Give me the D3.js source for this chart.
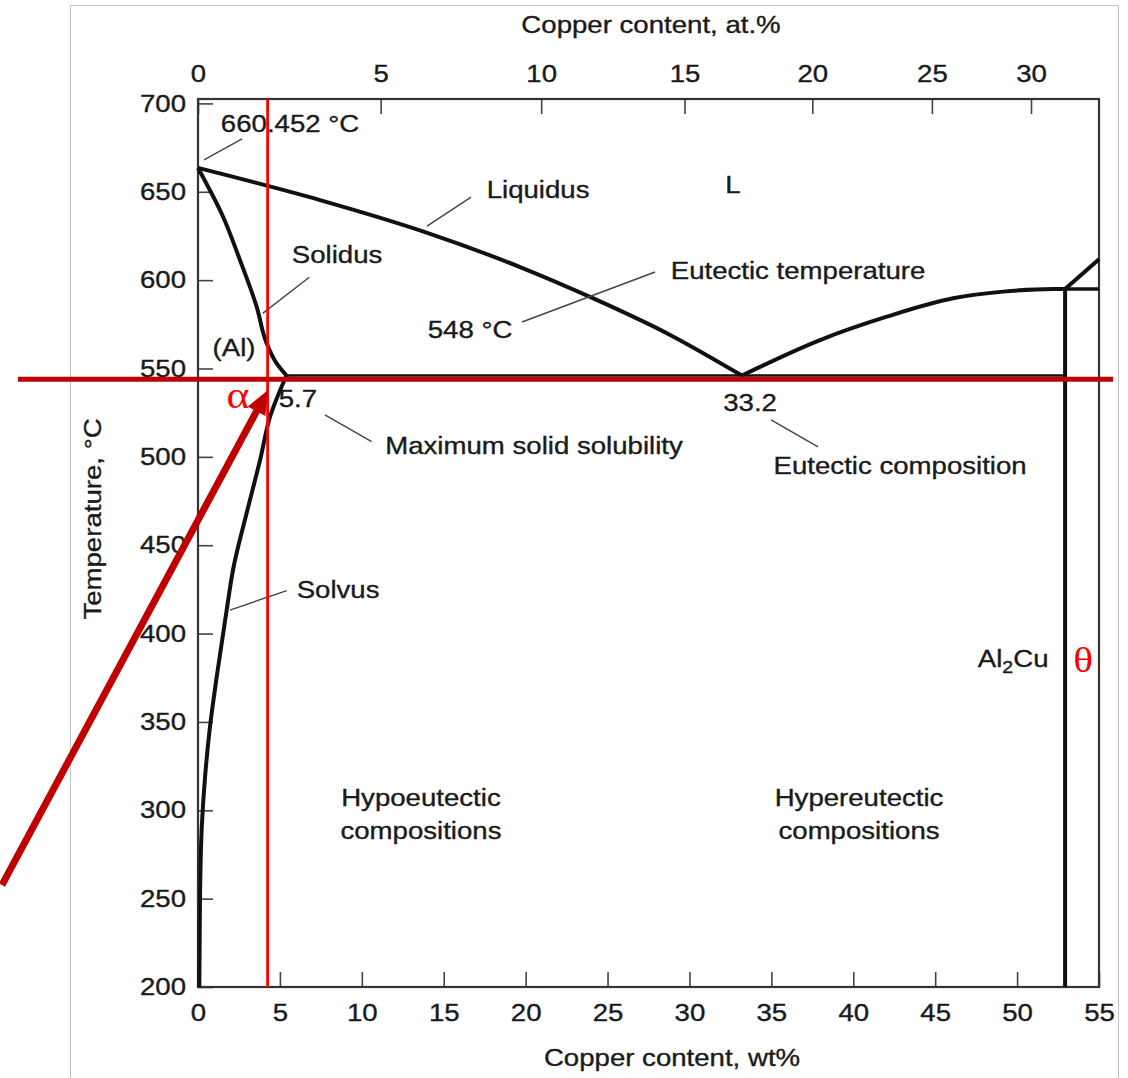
<!DOCTYPE html>
<html>
<head>
<meta charset="utf-8">
<script src="https://cdn.jsdelivr.net/npm/d3@7"></script>
<style>
  html, body { margin: 0; padding: 0; background: #fff; }
  svg { display: block; font-family: "Liberation Sans", Arial, sans-serif; }
</style>
</head>
<body>
<svg id="chart" width="1128" height="1078"></svg>
<script>
// axes
const wtTicks = [0, 5, 10, 15, 20, 25, 30, 35, 40, 45, 50, 55];
const tempTicks = [200, 250, 300, 350, 400, 450, 500, 550, 600, 650, 700];
const atTicks = [0, 5, 10, 15, 20, 25, 30];
const atTicksAsWt = [0, 11.15, 20.95, 29.7, 37.5, 44.8, 50.85]; // where the at.% ticks sit on the wt% axis

// phase boundaries, [wt% Cu, temperature °C]
const liquidusLeft = [[0, 663.5], [7.45, 645.3], [13.86, 627.2], [19.66, 607.4], [23.93, 590.5], [28.82, 569.0], [33.2, 546]];
const liquidusRight = [[33.2, 546], [37.97, 566.1], [42.05, 579.3], [46.09, 589.7], [49.15, 593.5], [52.2, 595.0], [52.93, 595.0]];
const solidus = [[5.4, 546], [4.8, 552.9], [4.19, 564.3], [3.58, 585.0], [2.56, 611.4], [1.53, 635.9], [0, 663.5]];
const solvus = [[0.08, 200], [0.12, 249.2], [0.23, 290.5], [0.43, 318.8], [0.73, 347.1], [1.14, 375.4], [1.75, 413.3], [2.16, 437.1], [2.97, 468.2], [3.79, 498.2], [4.4, 522.7], [5.4, 546]];
const eutecticLine = [[5.4, 546], [52.93, 546]];
const thetaLine = [[52.93, 595], [52.93, 200]];
const thetaTop = [[52.93, 595], [55, 595]];
const thetaLiquidus = [[52.93, 595], [55, 611.8]];

// red overlay marks
const redVertical = [[4.25, 702.5], [4.25, 200]];
const redHorizontal = [[-10.99, 543.9], [55.86, 543.9]];
const redArrow = [[-11.97, 257.7], [4.27, 537.8]];

// annotation text and leader lines
const labels = [
  { t: '660.452 °C', w: 5.62, T: 688.4 },
  { t: 'Liquidus', w: 20.76, T: 651.0 },
  { t: 'L', w: 32.66, T: 653.8 },
  { t: 'Solidus', w: 8.49, T: 614.2 },
  { t: '(Al)', w: 2.2, T: 561.6 },
  { t: '548 °C', w: 16.61, T: 571.8 },
  { t: 'Eutectic temperature', w: 36.63, T: 605.2 },
  { t: '5.7', w: 6.1, T: 532.7 },
  { t: 'Maximum solid solubility', w: 20.51, T: 506.1 },
  { t: '33.2', w: 33.7, T: 530.5 },
  { t: 'Eutectic composition', w: 42.86, T: 494.8 },
  { t: 'Solvus', w: 8.55, T: 424.7 },
  { t: 'Hypoeutectic', w: 13.61, T: 306.9 },
  { t: 'compositions', w: 13.61, T: 288.3 },
  { t: 'Hypereutectic', w: 40.35, T: 306.9 },
  { t: 'compositions', w: 40.35, T: 288.3 }
];
const leaders = [
  [[0.37, 668.0], [2.69, 679.9]],
  [[13.98, 630.6], [16.67, 647.0]],
  [[3.95, 581.2], [6.79, 601.6]],
  [[19.78, 576.3], [27.9, 604.6]],
  [[7.75, 523.7], [10.6, 508.6]],
  [[34.98, 520.9], [37.85, 505.6]],
  [[1.95, 413.3], [5.42, 424.3]]
];

const SX = 1.15; // the lettering in the scan is a bit wide

const svg = d3.select('#chart');

const x = d3.scaleLinear().domain([0, 55]).range([198, 1099]);
const y = d3.scaleLinear().domain([200, 702.5]).range([987, 99]);
const xAt = d3.scaleLinear().domain(atTicks).range(atTicksAsWt.map(x));

// outer grey border of the figure
svg.append('rect')
  .attr('x', 70.5).attr('y', 5.5).attr('width', 1048).attr('height', 1100)
  .attr('fill', 'none').attr('stroke', '#c4c4c4').attr('stroke-width', 1);

function styleAxis(g, dx) {
  g.select('.domain').remove();
  g.selectAll('.tick line').attr('stroke', '#444').attr('stroke-width', 1.6);
  g.selectAll('.tick text')
    .attr('font-size', 24)
    .attr('fill', '#1a1a1a')
    .attr('stroke', '#1a1a1a').attr('stroke-width', 0.35)
    .attr('font-family', '"Liberation Sans", Arial, sans-serif')
    .attr('transform', `scale(${SX},1)`);
  if (dx) g.selectAll('.tick text').attr('x', dx / SX);
}

svg.append('g')
  .attr('transform', `translate(0,${y(200)})`)
  .call(d3.axisBottom(x).tickValues(wtTicks).tickSizeInner(-15).tickSizeOuter(0).tickPadding(17))
  .call(g => styleAxis(g));

svg.append('g')
  .attr('transform', `translate(${x(0)},0)`)
  .call(d3.axisLeft(y).tickValues(tempTicks).tickSizeInner(-15).tickSizeOuter(0).tickPadding(12))
  .call(g => styleAxis(g, -12));

svg.append('g')
  .attr('transform', `translate(0,${y(702.5)})`)
  .call(d3.axisTop(xAt).tickValues(atTicks).tickSizeInner(-15).tickSizeOuter(0).tickPadding(17))
  .call(g => styleAxis(g));

// plot frame
svg.append('rect')
  .attr('x', x(0)).attr('y', y(702.5))
  .attr('width', x(55) - x(0)).attr('height', y(200) - y(702.5))
  .attr('fill', 'none').attr('stroke', '#333').attr('stroke-width', 2.2);

function putText(px, py, str, opts = {}) {
  const ink = opts.fill || '#1a1a1a';
  return svg.append('text')
    .attr('transform', `translate(${px},${py})${opts.rot ? ' rotate(' + opts.rot + ')' : ''} scale(${SX},1)`)
    .attr('text-anchor', opts.anchor || 'middle')
    .attr('dy', opts.dy == null ? '0.35em' : opts.dy)
    .attr('font-size', opts.size || 24)
    .attr('font-family', opts.family || null)
    .attr('fill', ink)
    .attr('stroke', opts.family ? null : ink).attr('stroke-width', opts.family ? null : 0.35)
    .text(str);
}

// titles
putText(651, 33, 'Copper content, at.%', { dy: 0 });
putText(672, 1066, 'Copper content, wt%', { dy: 0 });
putText(101, 519, 'Temperature, °C', { dy: 0, rot: -90 });

// phase boundaries
const line = d3.line().x(d => x(d[0])).y(d => y(d[1]));
const curveX = d3.line().x(d => x(d[0])).y(d => y(d[1])).curve(d3.curveMonotoneX);
const curveY = d3.line().x(d => x(d[0])).y(d => y(d[1])).curve(d3.curveMonotoneY);

const phase = svg.append('g').attr('fill', 'none').attr('stroke', '#111').attr('stroke-linejoin', 'round');
phase.append('path').attr('d', curveX(liquidusLeft)).attr('stroke-width', 4);
phase.append('path').attr('d', curveX(liquidusRight)).attr('stroke-width', 4);
phase.append('path').attr('d', curveY(solidus)).attr('stroke-width', 4);
phase.append('path').attr('d', curveY(solvus)).attr('stroke-width', 4);
phase.append('path').attr('d', line(eutecticLine)).attr('stroke-width', 2.5);
phase.append('path').attr('d', line(thetaLine)).attr('stroke-width', 4);
phase.append('path').attr('d', line(thetaTop)).attr('stroke-width', 3.5);
phase.append('path').attr('d', line(thetaLiquidus)).attr('stroke-width', 4);

// leader lines
svg.append('g').selectAll('path').data(leaders).join('path')
  .attr('d', d => line(d))
  .attr('fill', 'none').attr('stroke', '#444').attr('stroke-width', 1.4);

// labels
labels.forEach(l => putText(x(l.w), y(l.T), l.t));

// Al2Cu with subscript
const al2cu = svg.append('text')
  .attr('transform', `translate(${x(49.76)},${y(385.6)}) scale(${SX},1)`)
  .attr('text-anchor', 'middle').attr('dy', '0.35em')
  .attr('font-size', 24).attr('fill', '#1a1a1a')
  .attr('stroke', '#1a1a1a').attr('stroke-width', 0.35);
al2cu.append('tspan').text('Al');
al2cu.append('tspan').attr('font-size', 17).attr('dy', 6).text('2');
al2cu.append('tspan').attr('dy', -6).text('Cu');

// red overlay
const red = svg.append('g').attr('fill', 'none');
red.append('path').attr('d', line(redVertical)).attr('stroke', '#ff0000').attr('stroke-width', 2.8);
red.append('path').attr('d', line(redHorizontal)).attr('stroke', '#c00000').attr('stroke-width', 5);

// arrow: shorten the shaft so it ends inside the head
const a0 = [x(redArrow[0][0]), y(redArrow[0][1])];
const a1 = [x(redArrow[1][0]), y(redArrow[1][1])];
const ang = Math.atan2(a1[1] - a0[1], a1[0] - a0[0]);
const headLen = 24, headW = 10;
red.append('line')
  .attr('x1', a0[0]).attr('y1', a0[1])
  .attr('x2', a1[0] - Math.cos(ang) * (headLen - 4)).attr('y2', a1[1] - Math.sin(ang) * (headLen - 4))
  .attr('stroke', '#c00000').attr('stroke-width', 7);
const bx = a1[0] - Math.cos(ang) * headLen, by = a1[1] - Math.sin(ang) * headLen;
red.append('path')
  .attr('d', `M${a1[0]},${a1[1]}L${bx - Math.sin(ang) * headW},${by + Math.cos(ang) * headW}L${bx + Math.sin(ang) * headW},${by - Math.cos(ang) * headW}Z`)
  .attr('fill', '#c00000');

putText(x(2.44), y(527.6), 'α', { dy: 0, size: 38, family: '"Liberation Serif", "Times New Roman", serif', fill: '#ff0000' });
putText(x(54.03), y(378.3), 'θ', { dy: 0, size: 36, family: '"Liberation Serif", "Times New Roman", serif', fill: '#ff0000' });
</script>
</body>
</html>
